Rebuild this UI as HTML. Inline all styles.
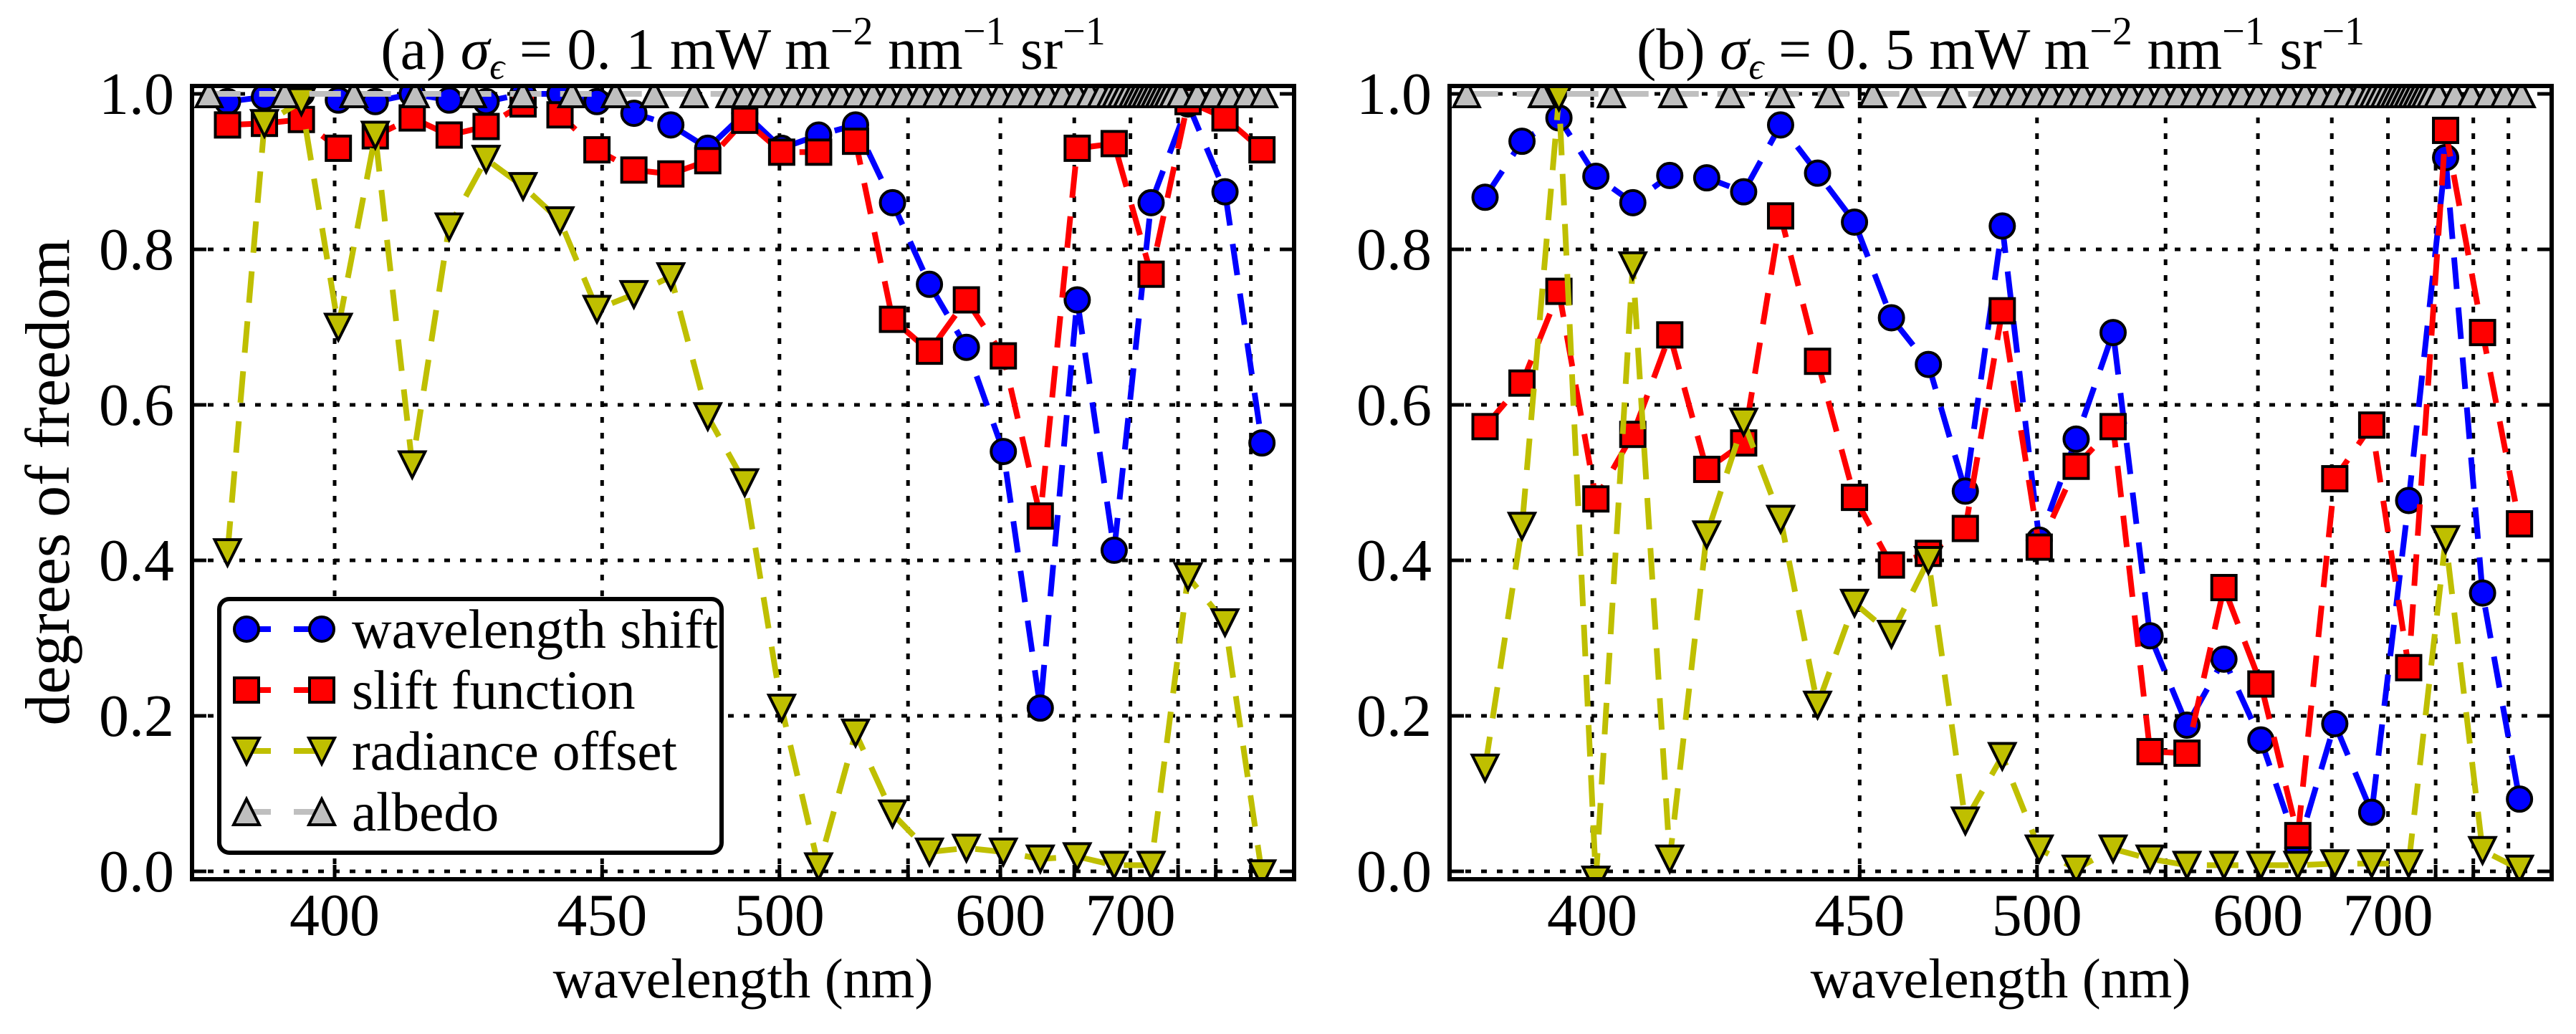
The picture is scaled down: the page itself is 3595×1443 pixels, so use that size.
<!DOCTYPE html>
<html><head><meta charset="utf-8"><style>
html,body{margin:0;padding:0;background:#fff;}
svg{display:block;}
svg text{font-family:"Liberation Serif","DejaVu Serif",serif;}
</style></head><body>
<svg id="fig" xmlns="http://www.w3.org/2000/svg" width="3595" height="1443" viewBox="0 0 3595 1443" font-family="Liberation Serif, DejaVu Serif, serif"></svg>
<script>
// ---- data (x = sample index along wavelength axis) ----
const blueA = [0.99,0.996,1.0,0.992,0.99,1.0,0.992,0.99,1.0,1.0,0.99,0.975,0.96,0.93,0.975,0.93,0.947,0.96,0.86,0.755,0.674,0.54,0.21,0.735,0.413,0.86,0.987,0.874,0.551];
const redA = [0.96,0.962,0.967,0.93,0.946,0.969,0.947,0.958,0.987,0.973,0.928,0.902,0.897,0.914,0.966,0.925,0.925,0.939,0.71,0.669,0.735,0.663,0.457,0.93,0.936,0.768,0.99,0.969,0.928];
const yelA = [0.41,0.962,0.99,0.70,0.947,0.523,0.829,0.916,0.881,0.837,0.723,0.742,0.765,0.585,0.50,0.21,0.006,0.178,0.074,0.025,0.03,0.025,0.016,0.019,0.008,0.008,0.379,0.32,-0.003];
const blueB = [0.867,0.939,0.969,0.894,0.86,0.895,0.892,0.874,0.96,0.898,0.835,0.712,0.652,0.489,0.83,0.426,0.556,0.693,0.303,0.188,0.273,0.169,0.03,0.19,0.076,0.477,0.918,0.358,0.093];
const redB = [0.572,0.628,0.746,0.479,0.562,0.69,0.517,0.551,0.843,0.656,0.481,0.394,0.409,0.441,0.721,0.417,0.521,0.572,0.154,0.152,0.365,0.241,0.046,0.505,0.574,0.262,0.953,0.693,0.447];
const yelB = [0.133,0.444,0.996,-0.011,0.779,0.016,0.433,0.578,0.453,0.214,0.345,0.305,0.4,0.065,0.148,0.029,0.003,0.029,0.016,0.008,0.008,0.008,0.008,0.01,0.01,0.01,0.427,0.027,0.003];
const albedoX = [-0.5,1.55,3.42,5.08,6.63,7.99,9.32,10.5,11.55,12.63,13.6,14.03,14.46,14.89,15.32,15.75,16.18,16.61,17.04,17.47,17.9,18.33,18.76,19.19,19.62,20.05,20.48,20.91,21.34,21.77,22.2,22.6,23.0,23.35,23.65,23.9,24.05,24.2,24.35,24.5,24.62,24.74,24.86,24.98,25.1,25.22,25.34,25.46,25.6,25.8,26.25,26.7,27.15,27.6,28.05];
const albedoVal = 1.0;
const gridX = [2.9,10.14,14.94,18.42,20.92,22.92,24.44,25.73,26.75,27.7];
const xTickPos = [2.9,10.14,14.94,20.92,24.44];
const xTickLabels = ["400","450","500","600","700"];
const yTicks = [0,0.2,0.4,0.6,0.8,1.0];
const yTickLabels = ["0.0","0.2","0.4","0.6","0.8","1.0"];

const NS="http://www.w3.org/2000/svg";
const svg=document.getElementById('fig');
const TOP=120, BOT=1227, PW=1538;
const XMIN=-0.96, XMAX=28.87, YMIN=-0.0101, YMAX=1.0101;
const DASH='44 26';
function mk(tag,attrs,parent){const e=document.createElementNS(NS,tag);for(const k in attrs)e.setAttribute(k,attrs[k]);parent.appendChild(e);return e;}

function drawPanel(L, blue, red, yel, key, titleParts){
  const R=L+PW;
  const xs=v=>L+(v-XMIN)/(XMAX-XMIN)*PW;
  const ys=v=>BOT-(v-YMIN)/(YMAX-YMIN)*(BOT-TOP);
  const g=mk('g',{},svg);
  
  
  const cid='clip'+key;
  const defs=mk('defs',{},g);
  const cp=mk('clipPath',{id:cid},defs);
  mk('rect',{x:L,y:TOP,width:PW,height:BOT-TOP},cp);
  const grid=mk('g',{stroke:'#000','stroke-width':5,'stroke-dasharray':'8 14'},g);
  
  
  gridX.forEach(v=>{mk('line',{x1:xs(v),x2:xs(v),y1:TOP,y2:BOT},grid);});
  yTicks.forEach(v=>{mk('line',{x1:L,x2:R,y1:ys(v),y2:ys(v)},grid);});
  const tk=mk('g',{stroke:'#000','stroke-width':5},g);
  gridX.forEach(v=>{mk('line',{x1:xs(v),x2:xs(v),y1:BOT,y2:BOT-20},tk);mk('line',{x1:xs(v),x2:xs(v),y1:TOP,y2:TOP+20},tk);});
  yTicks.forEach(v=>{mk('line',{x1:L,x2:L+20,y1:ys(v),y2:ys(v)},tk);mk('line',{x1:R,x2:R-20,y1:ys(v),y2:ys(v)},tk);});
  const data=mk('g',{'clip-path':'url(#'+cid+')'},g);
  function series(vals,xv,color,marker,name){
    const sg=mk('g',{},data);
    
    
    const pts=vals.map((v,i)=>xs(xv?xv[i]:i).toFixed(1)+','+ys(v).toFixed(1)).join(' ');
    const pl=mk('polyline',{points:pts,fill:'none',stroke:color,'stroke-width':8,'stroke-dasharray':DASH},sg);
    
    
    vals.forEach((v,i)=>{
      const x=xs(xv?xv[i]:i), y=ys(v);
      let m;
      if(marker==='o') m=mk('circle',{cx:x,cy:y,r:17,fill:color,stroke:'#000','stroke-width':4},sg);
      else if(marker==='s') m=mk('rect',{x:x-17,y:y-17,width:34,height:34,fill:color,stroke:'#000','stroke-width':4},sg);
      else if(marker==='v') m=mk('polygon',{points:`${x-18},${y-18} ${x+18},${y-18} ${x},${y+18}`,fill:color,stroke:'#000','stroke-width':4},sg);
      else m=mk('polygon',{points:`${x-18},${y+18} ${x+18},${y+18} ${x},${y-18}`,fill:color,stroke:'#000','stroke-width':4},sg);
      
      
    });
  }
  series(blue,null,'#0000ff','o','wavelength-shift');
  series(red,null,'#ff0000','s','slit-function');
  series(yel,null,'#bfbf00','v','radiance-offset');
  series(albedoX.map(()=>albedoVal),albedoX,'#bfbfbf','^','albedo');
  const fr=mk('rect',{x:L,y:TOP,width:PW,height:BOT-TOP,fill:'none',stroke:'#000','stroke-width':6},g);
  
  
  xTickPos.forEach((v,i)=>{const t=mk('text',{x:xs(v),y:1305,'font-size':84,'text-anchor':'middle'},g);t.textContent=xTickLabels[i];
    
    });
  yTicks.forEach((v,i)=>{const t=mk('text',{x:L-25,y:ys(v)+28,'font-size':84,'text-anchor':'end'},g);t.textContent=yTickLabels[i];
    
    });
  const xl=mk('text',{x:(L+R)/2,y:1392,'font-size':78,'text-anchor':'middle'},g);
  xl.textContent='wavelength (nm)';
  
  
  const tt=mk('text',{x:(L+R)/2,y:96,'font-size':82,'text-anchor':'middle'},g);
  
  
  tt.innerHTML=titleParts;
}
const tA='(a) <tspan font-style="italic">σ</tspan><tspan font-style="italic" font-size="52" dy="14">ϵ</tspan><tspan dy="-14"> = 0. 1 mW m</tspan><tspan font-size="56" dy="-34">−2</tspan><tspan dy="34"> nm</tspan><tspan font-size="56" dy="-34">−1</tspan><tspan dy="34"> sr</tspan><tspan font-size="56" dy="-34">−1</tspan>';
const tB=tA.replace('(a)','(b)').replace('0. 1','0. 5');
drawPanel(268,blueA,redA,yelA,'a',tA);
drawPanel(2023,blueB,redB,yelB,'b',tB);

const yl=mk('text',{x:0,y:0,'font-size':88,'text-anchor':'middle',transform:'translate(96,673) rotate(-90)'},svg);
yl.textContent='degrees of freedom';



const lg=mk('g',{},svg);


mk('rect',{x:306,y:836,width:701,height:354,rx:14,fill:'#fff',stroke:'#000','stroke-width':6},lg);
const legItems=[['wavelength shift','#0000ff','o'],['slift function','#ff0000','s'],['radiance offset','#bfbf00','v'],['albedo','#bfbfbf','^']];
legItems.forEach((it,i)=>{
  const y=878+i*85;
  const eg=mk('g',{},lg);
  
  
  mk('line',{x1:344,x2:449,y1:y,y2:y,stroke:it[1],'stroke-width':8,'stroke-dasharray':'34 32'},eg);
  [344,449].forEach(x=>{
    if(it[2]==='o') mk('circle',{cx:x,cy:y,r:17,fill:it[1],stroke:'#000','stroke-width':4},eg);
    else if(it[2]==='s') mk('rect',{x:x-17,y:y-17,width:34,height:34,fill:it[1],stroke:'#000','stroke-width':4},eg);
    else if(it[2]==='v') mk('polygon',{points:`${x-18},${y-18} ${x+18},${y-18} ${x},${y+18}`,fill:it[1],stroke:'#000','stroke-width':4},eg);
    else mk('polygon',{points:`${x-18},${y+18} ${x+18},${y+18} ${x},${y-18}`,fill:it[1],stroke:'#000','stroke-width':4},eg);
  });
  const t=mk('text',{x:491,y:y+26,'font-size':77},eg);
  t.textContent=it[0];
});
</script>
</body></html>
